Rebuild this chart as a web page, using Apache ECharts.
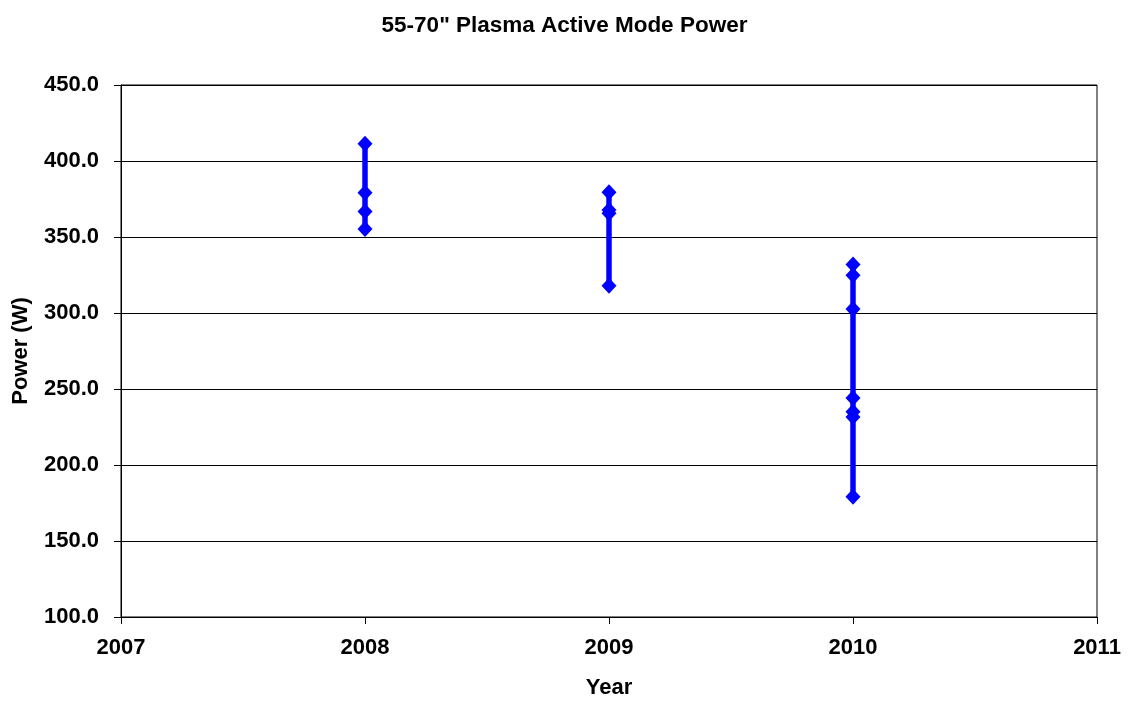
<!DOCTYPE html>
<html>
<head>
<meta charset="utf-8">
<script src="https://cdn.jsdelivr.net/npm/echarts@6/dist/echarts.min.js"></script>
<style>
html,body{margin:0;padding:0;background:#fff;}
#main{width:1129px;height:704px;}
</style>
</head>
<body>
<div id="main"></div>
<script>
// values, one list per year
var years = [2008, 2009, 2010];
var power2008 = [411.3, 379.1, 366.8, 355.3];
var power2009 = [379.5, 367.8, 365.6, 317.9];
var power2010 = [331.9, 324.8, 302.6, 244.1, 235.0, 231.5, 179.1];
var yTicks = {min: 100, max: 450, step: 50};
var xTicks = {min: 2007, max: 2011, step: 1};

var font = '"Liberation Sans", Arial, sans-serif';

/*把每年的数值变成[x,y]*/
function toPoints(year, vals){
    var arr = [];
    for(var i=0;i<vals.length;i++){
        arr.push([year, vals[i]]);
    }
    return arr;
}

var allVals = [power2008, power2009, power2010];
var series = [];
for(var k=0;k<years.length;k++){
    series.push({
        name: String(years[k]),
        type: 'line',
        data: toPoints(years[k], allVals[k]),
        symbol: 'diamond',
        symbolSize: [15, 16],
        lineStyle: {color: '#0000ff', width: 5.5},
        itemStyle: {color: '#0000ff'},
        animation: false
    });
}

var myChart = echarts.init(document.getElementById('main'));
var option = {
    backgroundColor: '#fff',
    title: {
        text: '55-70" Plasma Active Mode Power',
        left: 'center',
        top: 9,
        textStyle: {fontFamily: font, fontSize: 22.5, fontWeight: 'bold', color: '#000'}
    },
    grid: {
        left: 121, right: 32, top: 85, bottom: 81,
        show: true, borderColor: '#000', borderWidth: 1
    },
    xAxis: {
        type: 'value',
        min: xTicks.min, max: xTicks.max, interval: xTicks.step,
        name: 'Year',
        nameLocation: 'middle',
        nameGap: 60,
        nameTextStyle: {fontFamily: font, fontSize: 22, fontWeight: 'bold', color: '#000'},
        axisLine: {lineStyle: {color: '#000', width: 1}},
        axisTick: {show: true, length: 7, lineStyle: {color: '#000'}},
        splitLine: {show: false},
        axisLabel: {
            fontFamily: font, fontSize: 22, fontWeight: 'bold', color: '#000', margin: 20,
            formatter: function(v){ return String(v); }
        }
    },
    yAxis: {
        type: 'value',
        min: yTicks.min, max: yTicks.max, interval: yTicks.step,
        name: 'Power (W)',
        nameLocation: 'middle',
        nameGap: 89,
        nameRotate: 90,
        nameTextStyle: {fontFamily: font, fontSize: 22, fontWeight: 'bold', color: '#000'},
        axisLine: {show: true, lineStyle: {color: '#000', width: 1}},
        axisTick: {show: true, length: 7, lineStyle: {color: '#000'}},
        splitLine: {show: true, lineStyle: {color: '#000', width: 1}},
        axisLabel: {
            fontFamily: font, fontSize: 22, fontWeight: 'bold', color: '#000', margin: 22,
            formatter: function(v){ return v.toFixed(1); }
        }
    },
    series: series
};
myChart.setOption(option);
</script>
</body>
</html>
